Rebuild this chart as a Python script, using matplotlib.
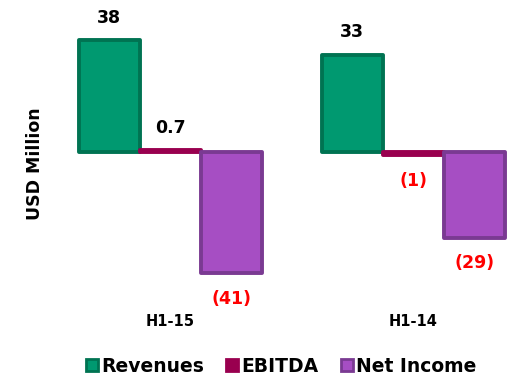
import matplotlib
matplotlib.use("Agg")
import matplotlib.pyplot as plt
from matplotlib.patches import Patch
import numpy as np

plt.rcParams['font.family'] = ['DejaVu Sans']
plt.rcParams['font.weight'] = 'bold'

periods = ['H1-15', 'H1-14']
series = ['Revenues', 'EBITDA', 'Net Income']
values = {
    'Revenues': [38, 33],
    'EBITDA': [0.7, -1],
    'Net Income': [-41, -29],
}
labels = {
    'Revenues': ['38', '33'],
    'EBITDA': ['0.7', '(1)'],
    'Net Income': ['(41)', '(29)'],
}
faces = {'Revenues': '#009970', 'EBITDA': '#99004f', 'Net Income': '#a64ec3'}
edges = {'Revenues': '#007352', 'EBITDA': '#99004f', 'Net Income': '#7a3a92'}

fig = plt.figure(figsize=(5.12, 3.76), dpi=100)
ax = fig.add_axes([0, 0, 1, 1])
ax.set_xlim(-0.70, 1.407)
ax.set_ylim(-75.9, 51.5)
ax.axis('off')

x = np.arange(len(periods))
w = 0.251
for k, s in enumerate(series):
    pos = x + (k - 1) * w
    ax.bar(pos, values[s], width=w, color=faces[s], edgecolor=edges[s],
           linewidth=2.8, joinstyle='round')
    for p, v, lab in zip(pos, values[s], labels[s]):
        if v >= 0:
            ax.text(p, v + 7.5, lab, ha='center', va='center', fontsize=12.5,
                    fontweight='bold', color='black')
        else:
            ax.text(p, v - 8.7, lab, ha='center', va='center', fontsize=12.5,
                    fontweight='bold', color='red')

for xi, per in zip(x, periods):
    ax.text(xi, -57.3, per, ha='center', va='center', fontsize=10.5,
            fontweight='bold')

fig.text(35 / 512, 1 - 164 / 376, 'USD Million', rotation=90, ha='center',
         va='center', fontsize=12.5, fontweight='bold')

handles = [Patch(facecolor=faces[s], edgecolor=edges[s], linewidth=2.0)
           for s in series]
fig.legend(handles, series, loc='center', bbox_to_anchor=(0.549, 1 - 366 / 376),
           ncol=3, frameon=False, handlelength=0.65, handleheight=0.65,
           handletextpad=0.15, columnspacing=1.2,
           prop={'weight': 'bold', 'size': 13.5})

fig.savefig('out.png', dpi=100)
